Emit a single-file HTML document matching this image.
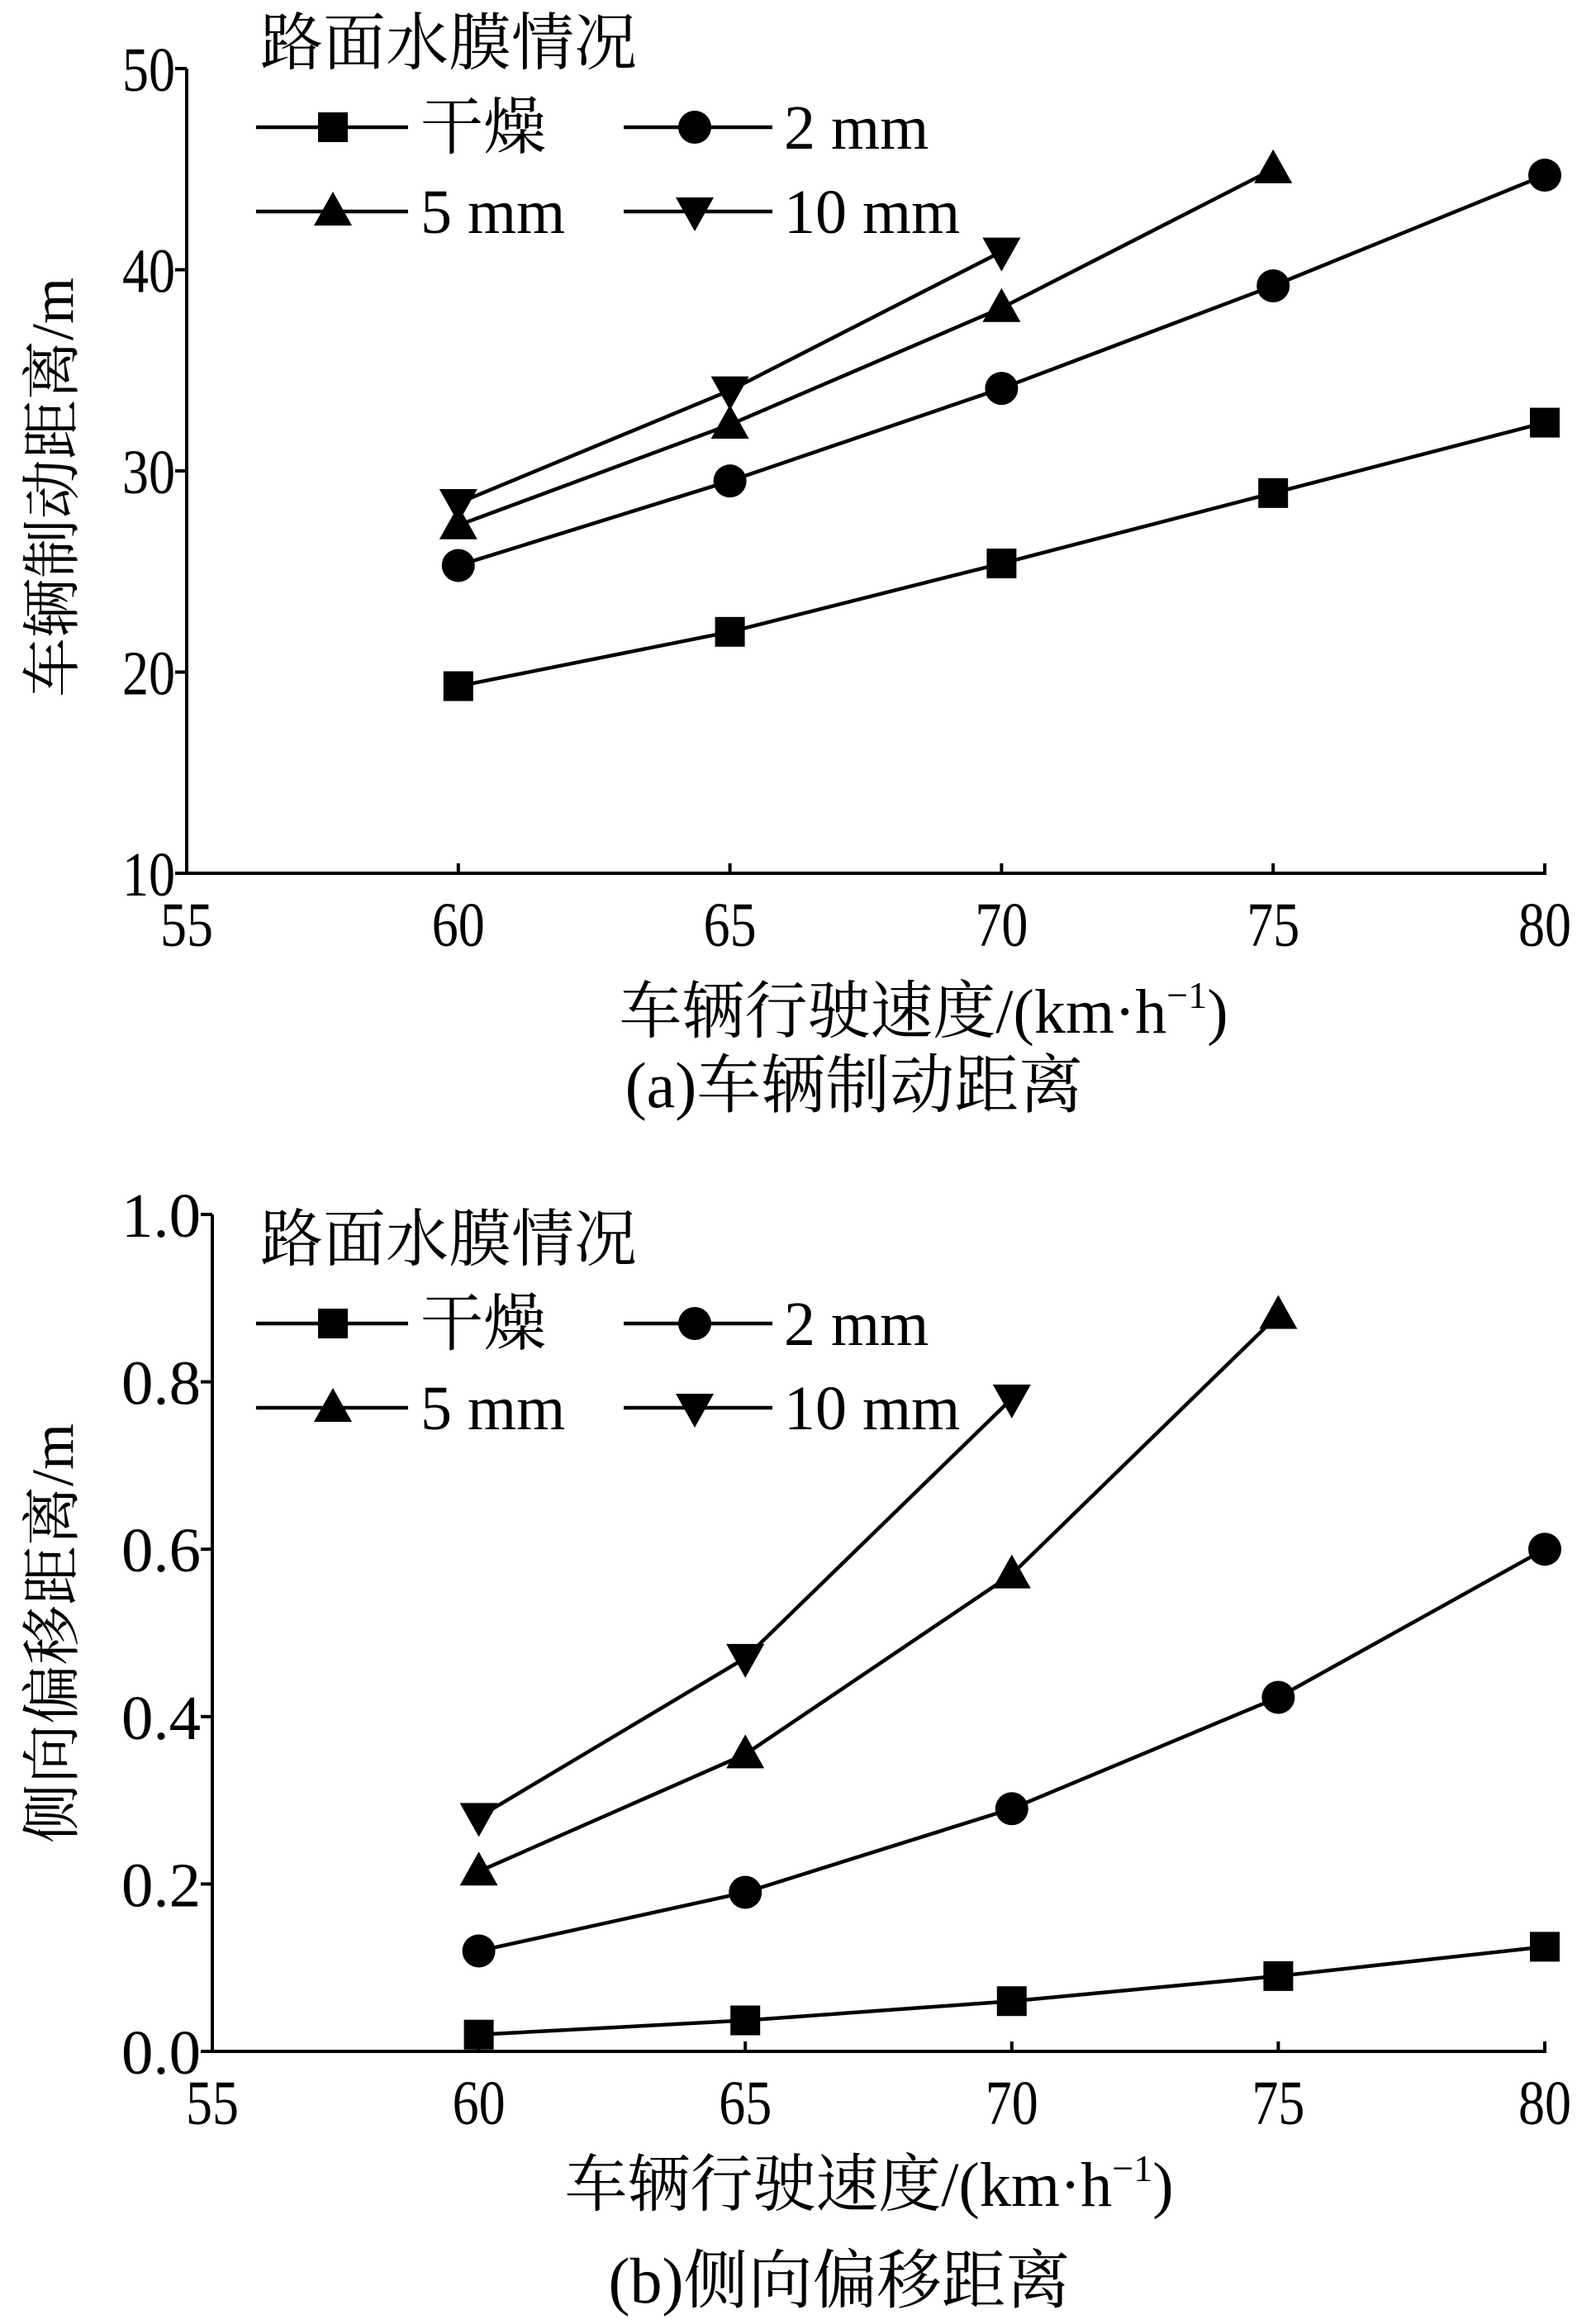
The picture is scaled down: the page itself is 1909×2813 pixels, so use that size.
<!DOCTYPE html>
<html><head><meta charset="utf-8">
<style>
html,body{margin:0;padding:0;background:#fff;}
svg{display:block;}
text{font-family:"Liberation Serif","Noto Serif CJK SC","Noto Sans CJK SC",serif;fill:#000;}
</style></head>
<body>
<svg id="chart" width="1909" height="2813" viewBox="0 0 1909 2813" xmlns="http://www.w3.org/2000/svg"></svg>
<script>
const xTicks = [55, 60, 65, 70, 75, 80];
const speeds = [60, 65, 70, 75, 80];
const seriesNames = ['干燥', '2 mm', '5 mm', '10 mm'];
const seriesMarkers = ['square', 'circle', 'up', 'down'];
const brakeTicks = [10, 20, 30, 40, 50];
const brakeDry = [19.3, 22.0, 25.4, 28.9, 32.4];
const brake2 = [25.3, 29.5, 34.1, 39.2, 44.7];
const brake5 = [27.3, 32.3, 38.1, 45.0];
const brake10 = [28.4, 34.0, 40.9];
const offsetTicks = ['0.0', '0.2', '0.4', '0.6', '0.8', '1.0'];
const offsetDry = [0.02, 0.037, 0.06, 0.09, 0.125];
const offset2 = [0.12, 0.19, 0.29, 0.423, 0.60];
const offset5 = [0.215, 0.355, 0.57, 0.88];
const offset10 = [0.28, 0.47, 0.78];

const NS = 'http://www.w3.org/2000/svg';
const svg = document.getElementById('chart');
function mk(tag, attrs, parent) {
  const e = document.createElementNS(NS, tag);
  for (const k in attrs) e.setAttribute(k, attrs[k]);
  (parent || svg).appendChild(e);
  return e;
}
function marker(type, cx, cy, g) {
  let e;
  if (type === 'square') e = mk('rect', {x: cx - 18, y: cy - 18, width: 36, height: 36, fill: '#000'}, g);
  else if (type === 'circle') e = mk('circle', {cx: cx, cy: cy, r: 20, fill: '#000'}, g);
  else if (type === 'up') e = mk('polygon', {points: `${cx},${cy-24} ${cx+23},${cy+17} ${cx-23},${cy+17}`, fill: '#000'}, g);
  else e = mk('polygon', {points: `${cx},${cy+24} ${cx+23},${cy-17} ${cx-23},${cy-17}`, fill: '#000'}, g);
  return e;
}

function panel(p) {
  const g = mk('g', {});
  
  
  const xs = v => p.x0 + (v - 55) / 25 * (p.x1 - p.x0);
  const ys = v => p.y0 - (v - p.ymin) / (p.ymax - p.ymin) * (p.y0 - p.y1);
  const ax = mk('path', {d: `M${p.x0},${p.y1} V${p.y0} H${p.x1+2}`, stroke: '#000', 'stroke-width': 4, fill: 'none'}, g);
  
  
  xTicks.forEach(t => {
    const x = xs(t);
    mk('line', {x1: x, x2: x, y1: p.y0, y2: p.y0 - 12, stroke: '#000', 'stroke-width': 4}, g);
    const tx = mk('text', {x: x, y: p.y0 + 88, 'font-size': 76, 'text-anchor': 'middle', textLength: String(t).length * 32, lengthAdjust: 'spacingAndGlyphs'}, g);
    tx.textContent = t;
    
    
  });
  p.yTicks.forEach(t => {
    const y = ys(parseFloat(t));
    mk('line', {x1: p.x0, x2: p.x0 - 14, y1: y, y2: y, stroke: '#000', 'stroke-width': 4}, g);
    const tx = mk('text', {x: p.x0 - 14, y: y + 27, 'font-size': 76, 'text-anchor': 'end', textLength: String(t).length * 32, lengthAdjust: 'spacingAndGlyphs'}, g);
    tx.textContent = t;
    
    
  });
  p.series.forEach((vals, i) => {
    const sg = mk('g', {}, g);
    
    
    const pts = vals.map((v, j) => [xs(speeds[j]), ys(v)]);
    mk('polyline', {points: pts.map(q => q.join(',')).join(' '), fill: 'none', stroke: '#000', 'stroke-width': 4.5}, sg);
    pts.forEach(q => {
      const m = marker(seriesMarkers[i], q[0], q[1], sg);
      
      
    });
  });
  const lg = mk('g', {}, g);
  
  
  const lt = mk('text', {x: 315, y: p.legY + 26, 'font-size': 76}, lg);
  lt.textContent = '路面水膜情况';
  const cols = [[310, 494, 403, 509], [755, 935, 841, 949]];
  seriesNames.forEach((nm, i) => {
    const c = cols[i % 2];
    const y = p.legY + 102 * (1 + Math.floor(i / 2));
    const eg = mk('g', {}, g === null ? svg : lg);
    
    
    mk('line', {x1: c[0], x2: c[1], y1: y, y2: y, stroke: '#000', 'stroke-width': 4.5}, eg);
    marker(seriesMarkers[i], c[2], y, eg);
    const t = mk('text', {x: c[3], y: y + 26, 'font-size': 76}, eg);
    t.textContent = nm;
  });
  const yl = mk('text', {x: 0, y: 0, 'font-size': 72, 'text-anchor': 'middle', transform: `translate(${p.ylX},${p.ylY}) rotate(-90)`}, g);
  yl.textContent = p.ylabel;
  
  
  const xl = mk('text', {x: p.xlX, y: p.xlY, 'font-size': 76, 'text-anchor': 'middle'}, g);
  xl.innerHTML = '车辆行驶速度/(km·h<tspan dy="-30" font-size="46">−1</tspan><tspan dy="30">)</tspan>';
  
  
  const cp = mk('text', {x: p.cX, y: p.cY, 'font-size': 78, 'text-anchor': 'middle'}, g);
  cp.textContent = p.caption;
  
  
}

panel({name: 'braking-distance-chart', x0: 226, x1: 1870, y0: 1057, y1: 83, ymin: 10, ymax: 50,
  yTicks: brakeTicks, series: [brakeDry, brake2, brake5, brake10], legY: 52,
  ylabel: '车辆制动距离/m', ylX: 88, ylY: 590, xlX: 1118, xlY: 1250, caption: '(a)车辆制动距离', cX: 1034, cY: 1340});
panel({name: 'lateral-offset-chart', x0: 257, x1: 1870, y0: 2483, y1: 1470, ymin: 0, ymax: 1,
  yTicks: offsetTicks, series: [offsetDry, offset2, offset5, offset10], legY: 1500,
  ylabel: '侧向偏移距离/m', ylX: 88, ylY: 1977, xlX: 1052, xlY: 2670, caption: '(b)侧向偏移距离', cX: 1016, cY: 2787});
</script>
</body></html>
